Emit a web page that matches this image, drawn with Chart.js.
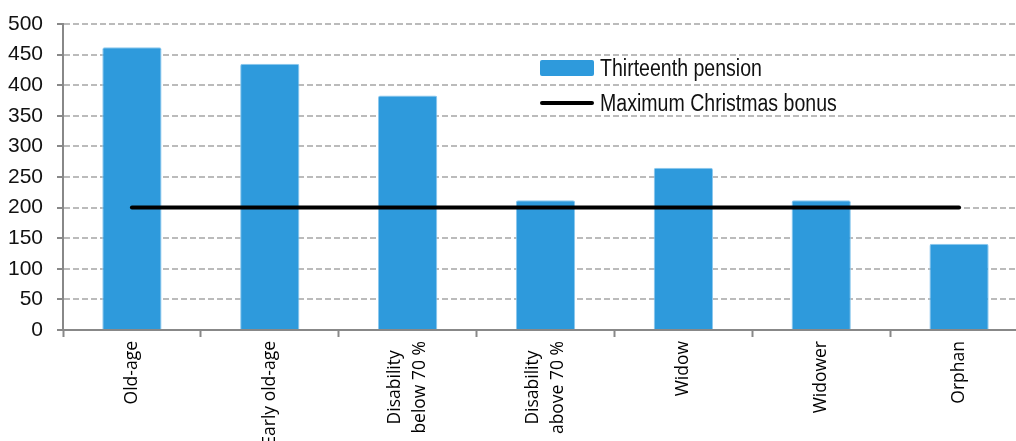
<!DOCTYPE html>
<html>
<head>
<meta charset="utf-8">
<script src="https://cdn.jsdelivr.net/npm/chart.js@4/dist/chart.umd.min.js"></script>
<style>
  body { margin: 0; background: #fff; }
  #wrap { position: relative; width: 1016px; height: 441px; overflow: hidden; }
  .legend-item { position: absolute; left: 540px; height: 20px; display: flex; align-items: center;
    font-family: 'Liberation Sans', Arial, sans-serif; font-size: 23px; color: #111; white-space: nowrap; }
  .legend-item span.sw { display: inline-block; width: 54px; margin-right: 6px; }
  .legend-item span.txt { display: inline-block; transform: scaleX(0.85); transform-origin: left center; }
</style>
</head>
<body>
<div id="wrap">
  <!-- the plot runs past the right edge of the picture, as in the original -->
  <canvas id="myCanvas" width="1031" height="441"></canvas>
  <div id="legend"></div>
</div>
<script>
'use strict';

// chart data
const categories = ['Old-age', 'Early old-age', ['Disability', 'below 70 %'], ['Disability', 'above 70 %'], 'Widow', 'Widower', 'Orphan'];
const thirteenthPension = [462, 435, 383, 212, 265, 212, 141];
const christmasBonus = [200, 200, 200, 200, 200, 200, 200];
const seriesNames = ['Thirteenth pension', 'Maximum Christmas bonus'];
const yMin = 0;
const yMax = 500;
const yStep = 50;

const barColor = '#2E9ADC';

// two line labels: center the lines on the tick and on each other
const centerMultiLine = {
  id: 'centerMultiLine',
  beforeDraw(chart) {
    const items = chart.scales.x.getLabelItems(chart.chartArea);
    const ctx = chart.ctx;
    items.forEach(function (item) {
      if (!Array.isArray(item.label) || item.centered) {
        return;
      }
      ctx.save();
      ctx.font = item.font.string;
      let widest = 0;
      item.label.forEach(function (line) {
        widest = Math.max(widest, ctx.measureText(line).width);
      });
      ctx.restore();
      const t = item.options.translation;
      item.options.textAlign = 'center';
      item.options.translation = [t[0] - (item.label.length - 1) * item.font.lineHeight / 2, t[1] + widest / 2];
      item.centered = true;
    });
  }
};

const data = {
  labels: categories,
  datasets: [{
    type: 'line',
    label: seriesNames[1],
    data: christmasBonus,
    borderColor: '#000',
    borderWidth: 4,
    borderCapStyle: 'round',
    pointRadius: 0,
    order: 0
  },
  {
    type: 'bar',
    label: seriesNames[0],
    data: thirteenthPension,
    backgroundColor: barColor,
    borderColor: '#8CC8EE',
    borderWidth: 1,
    borderRadius: 2,
    barPercentage: 0.86,
    categoryPercentage: 0.5,
    order: 1
  }]
};

const config = {
  data: data,
  plugins: [centerMultiLine],
  options: {
    responsive: false,
    animation: false,
    devicePixelRatio: 1,
    layout: { padding: { top: 24, right: 3, left: 0, bottom: 0 } },
    plugins: {
      legend: { display: false },
      tooltip: { enabled: false }
    },
    scales: {
      x: {
        offset: true,
        grid: {
          offset: true,
          drawOnChartArea: false,
          drawTicks: true,
          tickLength: 7,
          tickColor: '#888',
          tickWidth: 2
        },
        border: { color: '#888', width: 2 },
        ticks: {
          maxRotation: 90,
          minRotation: 90,
          padding: 4,
          color: '#000',
          font: { family: "'Open Sans', sans-serif", size: 17.5, lineHeight: 1.4 }
        },
        afterFit: function (scale) {
          scale.height = 111;
          scale.paddingTop = 0;
        }
      },
      y: {
        min: yMin,
        max: yMax,
        grid: {
          color: '#BBBBBB',
          lineWidth: 2,
          tickLength: 6,
          tickColor: '#888',
          tickWidth: 2
        },
        border: { color: '#888', width: 2, dash: [6, 3] },
        ticks: {
          stepSize: yStep,
          padding: 14,
          color: '#111',
          font: { family: "'Liberation Sans', Arial, sans-serif", size: 21 }
        },
        afterFit: function (scale) {
          scale.width = 63;
          scale.paddingTop = 0;
        }
      }
    }
  }
};

const chart = document.getElementById('myCanvas');
const myChart = new Chart(chart, config);

// legend drawn as html over the plot
const legend = document.getElementById('legend');
const legendRows = [
  { name: seriesNames[0], top: 58, swatch: 'height:16px;background:' + barColor + ';border-radius:2px;' },
  { name: seriesNames[1], top: 93, swatch: 'height:4px;background:#000;border-radius:2px;' }
];
for (let i = 0; i < legendRows.length; i++) {
  let row = document.createElement('div');
  row.className = 'legend-item';
  row.style.top = legendRows[i].top + 'px';
  row.innerHTML = '<span class="sw" style="' + legendRows[i].swatch + '"></span><span class="txt">' + legendRows[i].name + '</span>';
  legend.appendChild(row);
}
</script>
</body>
</html>
